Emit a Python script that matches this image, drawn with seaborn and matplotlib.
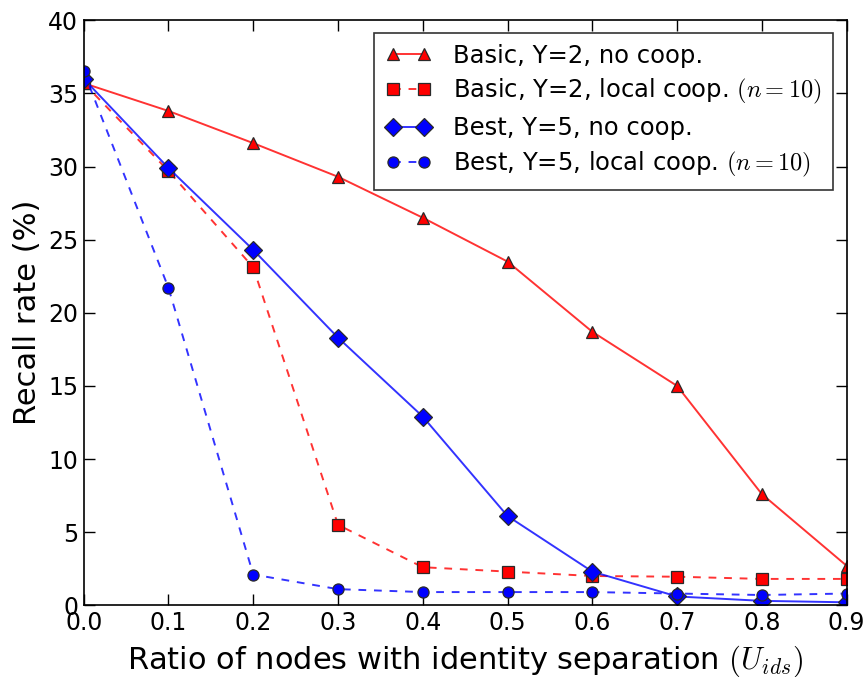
import matplotlib
matplotlib.use("Agg")
import matplotlib.pyplot as plt
import seaborn as sns
import pandas as pd

# Fraction of nodes using identity separation
ratio = [0.0, 0.1, 0.2, 0.3, 0.4, 0.5, 0.6, 0.7, 0.8, 0.9]

# Recall rate (%) for each attack / cooperation setting
basic_no_coop = [35.7, 33.8, 31.6, 29.3, 26.5, 23.5, 18.7, 15.0, 7.6, 2.7]
basic_local_coop = [35.7, 29.7, 23.1, 5.5, 2.6, 2.3, 2.0, 1.95, 1.8, 1.8]
best_no_coop = [36.0, 29.9, 24.3, 18.3, 12.9, 6.1, 2.3, 0.6, 0.3, 0.2]
best_local_coop = [36.5, 21.7, 2.1, 1.1, 0.9, 0.9, 0.9, 0.8, 0.7, 0.8]

labels = [
    "Basic, Y=2, no coop.",
    "Basic, Y=2, local coop. $(n=10)$",
    "Best, Y=5, no coop.",
    "Best, Y=5, local coop. $(n=10)$",
]
series = [basic_no_coop, basic_local_coop, best_no_coop, best_local_coop]
colors = [(1, 0, 0), (1, 0, 0), (0, 0, 1), (0, 0, 1)]
markers = ["^", "s", "D", "o"]
sizes = [8, 8, 9.5, 8]
dashed = [False, True, False, True]

sns.set_theme(style="ticks")
plt.rcParams["font.family"] = ["DejaVu Sans"]
plt.rcParams["mathtext.fontset"] = "cm"
for key in ["text.color", "axes.labelcolor", "xtick.color", "ytick.color"]:
    plt.rcParams[key] = "black"

fig = plt.figure(figsize=(8.63, 6.77), dpi=100)
ax = fig.add_axes([0.097, 0.106, 0.884, 0.864])

for lab, vals, c, m, ms, dsh in zip(labels, series, colors, markers, sizes, dashed):
    df = pd.DataFrame({"ratio": ratio, "recall": vals})
    kw = dict(dashes=(4, 4)) if dsh else dict(linestyle="-")
    sns.lineplot(
        data=df, x="ratio", y="recall", ax=ax, color=c + (0.8,),
        marker=m, markersize=ms, markeredgecolor="#2a2a2a", markeredgewidth=0.9,
        markerfacecolor=c, linewidth=1.4, label=lab, **kw,
    )

ax.set_xlim(0.0, 0.9)
ax.set_ylim(0, 40)
ax.set_xticks(ratio)
ax.set_xticklabels([f"{v:.1f}" for v in ratio])
ax.set_yticks(range(0, 41, 5))

ax.tick_params(direction="in", length=8, width=1, top=True, right=True,
               labelsize=17, pad=4, colors="black")
for s in ax.spines.values():
    s.set_color("black")
    s.set_linewidth(1.2)

ax.set_xlabel("Ratio of nodes with identity separation $(U_{ids})$", fontsize=22,
              labelpad=6)
ax.set_ylabel("Recall rate (%)", fontsize=22, labelpad=4)

leg = ax.legend(loc="upper right", fontsize=17.5, numpoints=2, handlelength=1.9,
                handletextpad=0.9, frameon=True, fancybox=False,
                edgecolor="black", borderpad=0.45, labelspacing=0.4,
                borderaxespad=0, bbox_to_anchor=(0.982, 0.979))
leg.get_frame().set_linewidth(1.2)

fig.savefig("out.png", dpi=100)
